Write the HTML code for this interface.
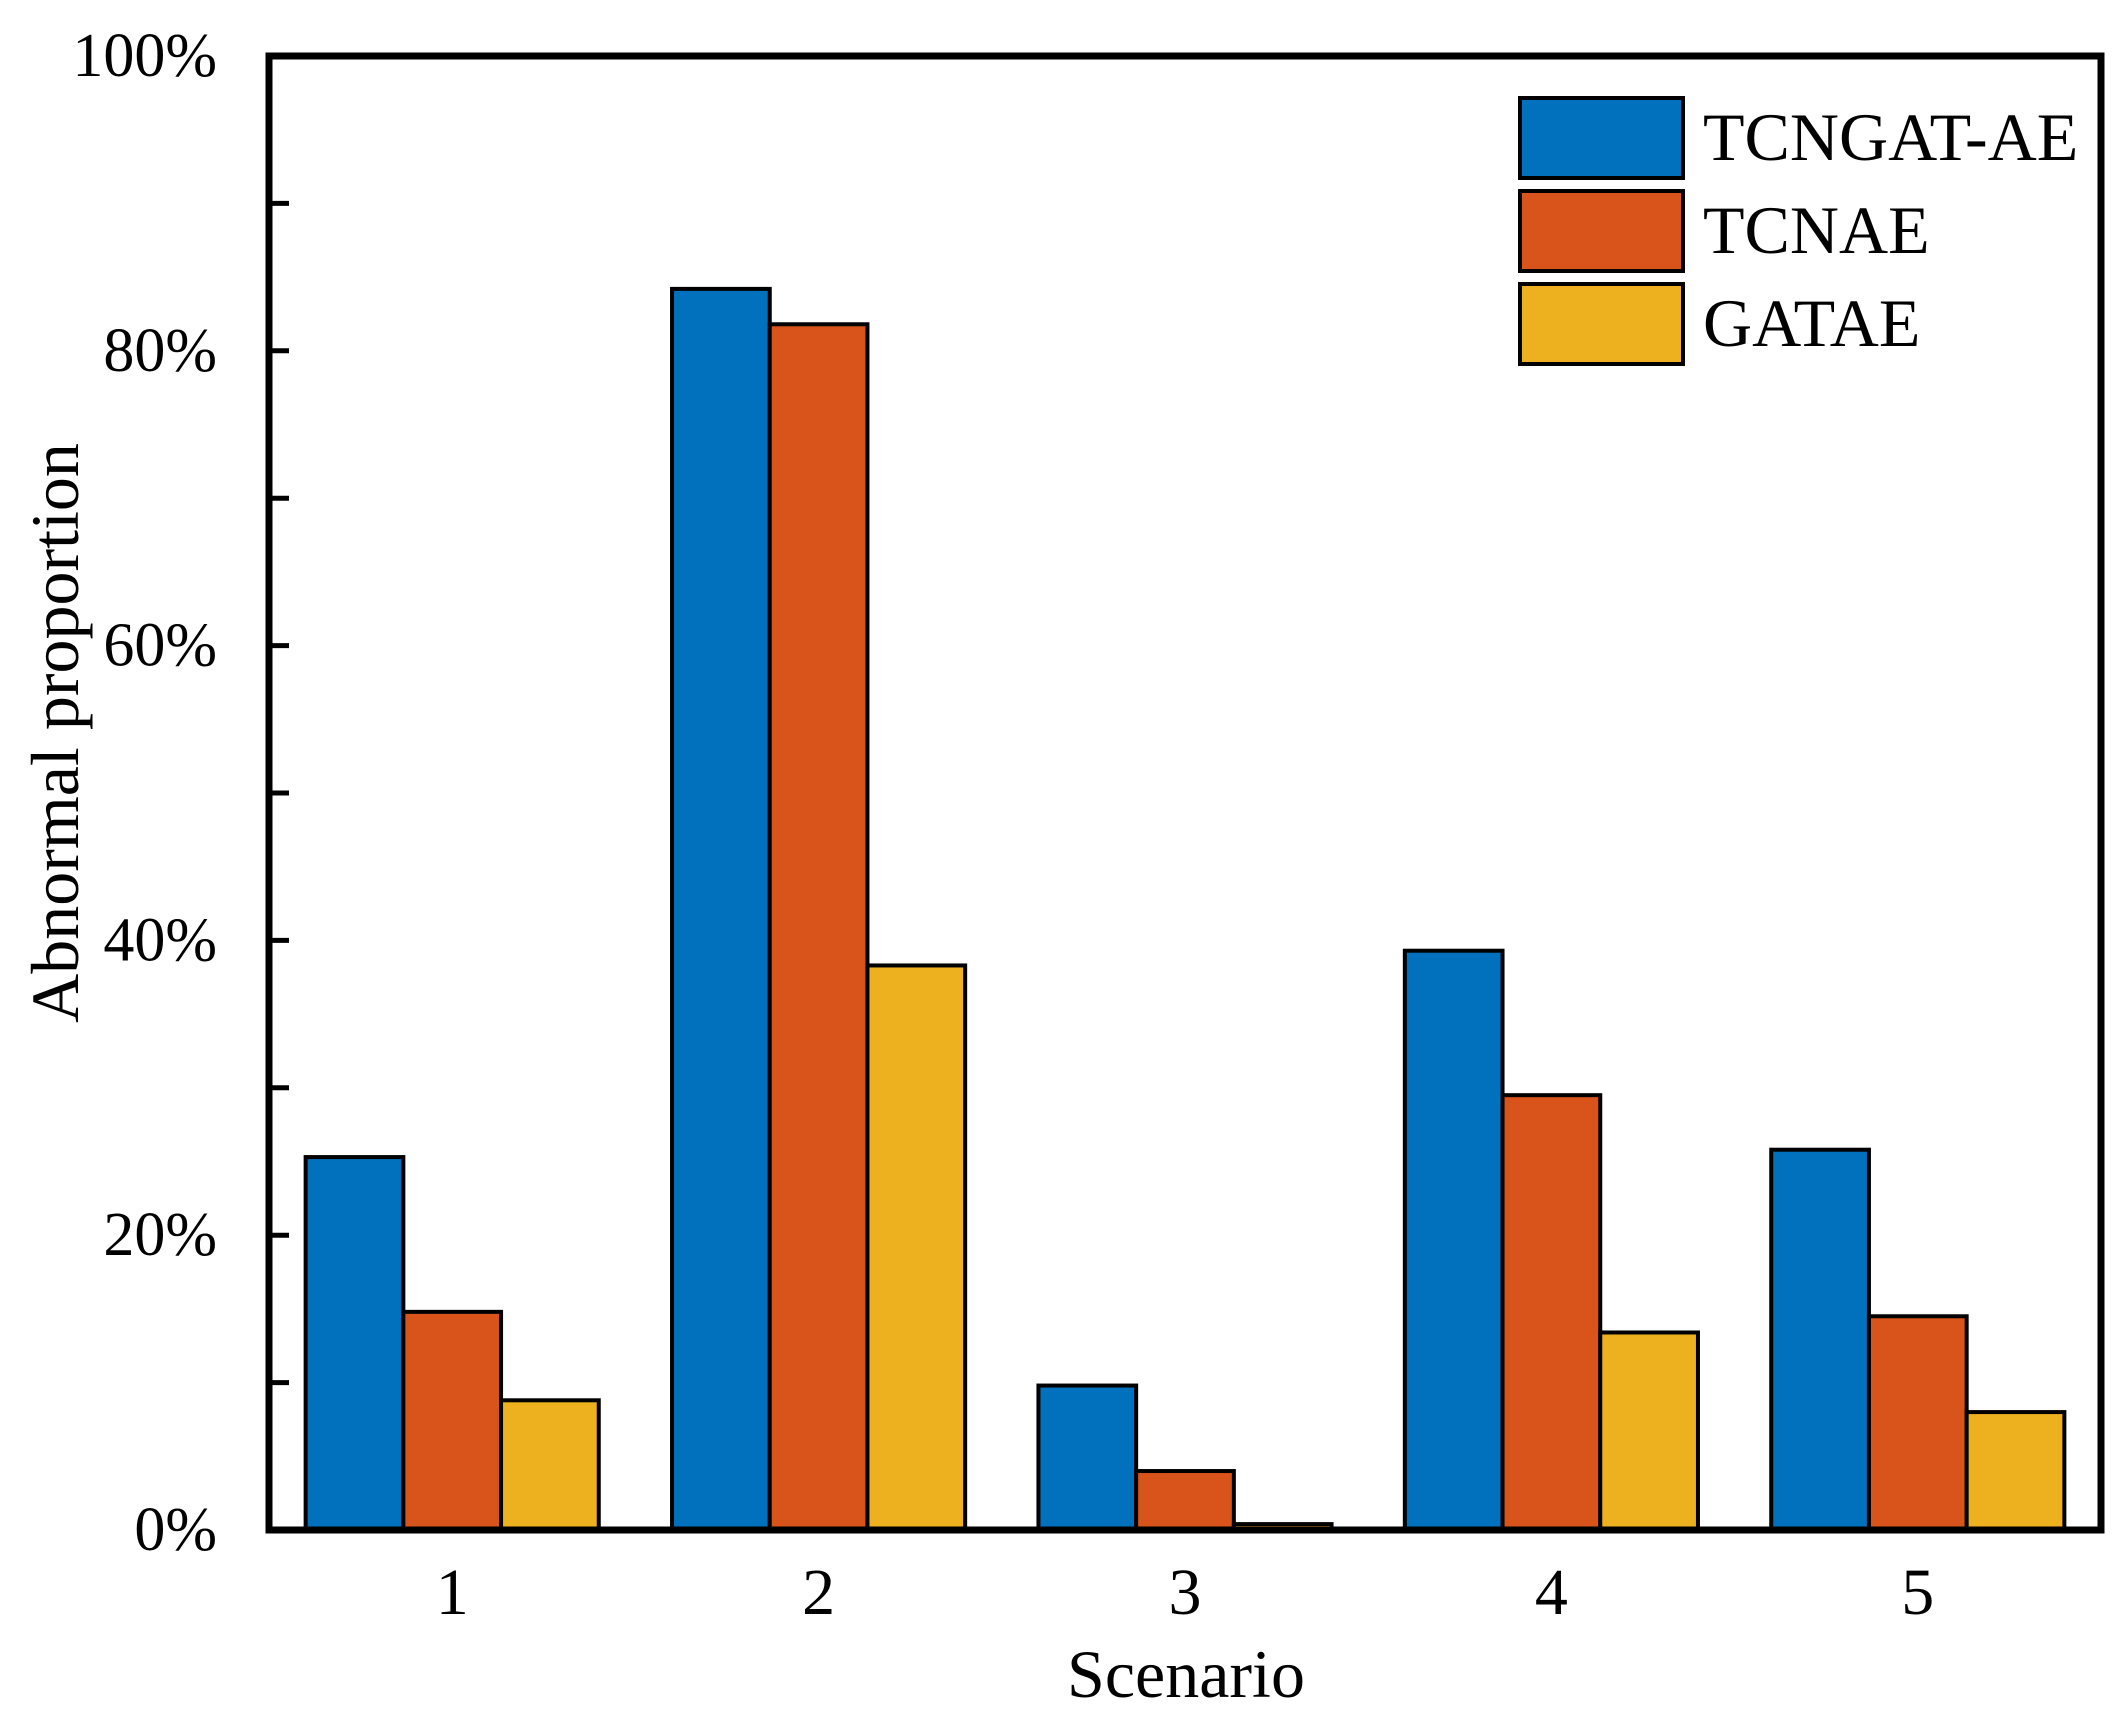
<!DOCTYPE html>
<html><head><meta charset="utf-8"><style>
html,body{margin:0;padding:0;background:#fff}
svg{display:block}
text{font-family:"Liberation Serif",serif;fill:#000}
</style></head><body>
<svg id="chart" width="2128" height="1724" viewBox="0 0 2128 1724">
<g id="bars"></g>
<g id="axes"></g>
<g id="legend"></g>
<text x="1186" y="1697" font-size="68" text-anchor="middle">Scenario</text>
<text transform="translate(78,733) rotate(-90)" font-size="68" text-anchor="middle">Abnormal proportion</text>
</svg>
<script>
const categories = ["1","2","3","4","5"];
const seriesNames = ["TCNGAT-AE","TCNAE","GATAE"];
const tcngatae = [25.3, 84.2, 9.8, 39.3, 25.8];
const tcnae = [14.8, 81.8, 4.0, 29.5, 14.5];
const gatae = [8.8, 38.3, 0.4, 13.4, 8.0];
const yTicks = [0, 20, 40, 60, 80, 100];
const yTickLabels = ["0%","20%","40%","60%","80%","100%"];
const yMinorTicks = [10, 30, 50, 70, 90];

const NS = "http://www.w3.org/2000/svg";
const colors = ["#0171bd", "#d9541a", "#edb120"];
const L = 269, R = 2101, T = 56, B = 1530;
function xScale(i){ return L + (i + 0.5) * (R - L) / categories.length; }
function yScale(v){ return B - v / 100 * (B - T); }
const band = (R - L) / categories.length;
const bw = band * 0.8 / 3;
const series = [tcngatae, tcnae, gatae];
function mk(tag, attrs, parent){ const e = document.createElementNS(NS, tag); for (const k in attrs) e.setAttribute(k, attrs[k]); parent.appendChild(e); return e; }
const gb = document.getElementById('bars');
series.forEach((s, si) => {
  s.forEach((v, i) => {
    const x = xScale(i) - 1.5 * bw + si * bw;
    const r = mk('rect', {x: x, y: yScale(v), width: bw, height: B - yScale(v), fill: colors[si], stroke: '#000', 'stroke-width': 4}, gb);
    
    
  });
});
const ga = document.getElementById('axes');
const frame = mk('rect', {x: L, y: T, width: R - L, height: B - T, fill: 'none', stroke: '#000', 'stroke-width': 7}, ga);


yTicks.forEach((v, i) => {
  const y = yScale(v);
  mk('line', {x1: L, x2: L + 20, y1: y, y2: y, stroke: '#000', 'stroke-width': 5}, ga);
  const t = mk('text', {x: 217, y: y + 20, 'font-size': 62, 'text-anchor': 'end'}, ga);
  t.textContent = yTickLabels[i];
  
  
});
yMinorTicks.forEach(v => {
  const y = yScale(v);
  mk('line', {x1: L, x2: L + 20, y1: y, y2: y, stroke: '#000', 'stroke-width': 5}, ga);
});
categories.forEach((c, i) => {
  const t = mk('text', {x: xScale(i), y: 1614, 'font-size': 66, 'text-anchor': 'middle'}, ga);
  t.textContent = c;
  
  
});
const gl = document.getElementById('legend');
seriesNames.forEach((n, i) => {
  const y = 98 + i * 93;
  const r = mk('rect', {x: 1520, y: y, width: 163, height: 80, fill: colors[i], stroke: '#000', 'stroke-width': 4}, gl);
  
  
  const t = mk('text', {x: 1703, y: y + 62, 'font-size': 68}, gl);
  t.textContent = n;
  
  
});
</script>
</body></html>
